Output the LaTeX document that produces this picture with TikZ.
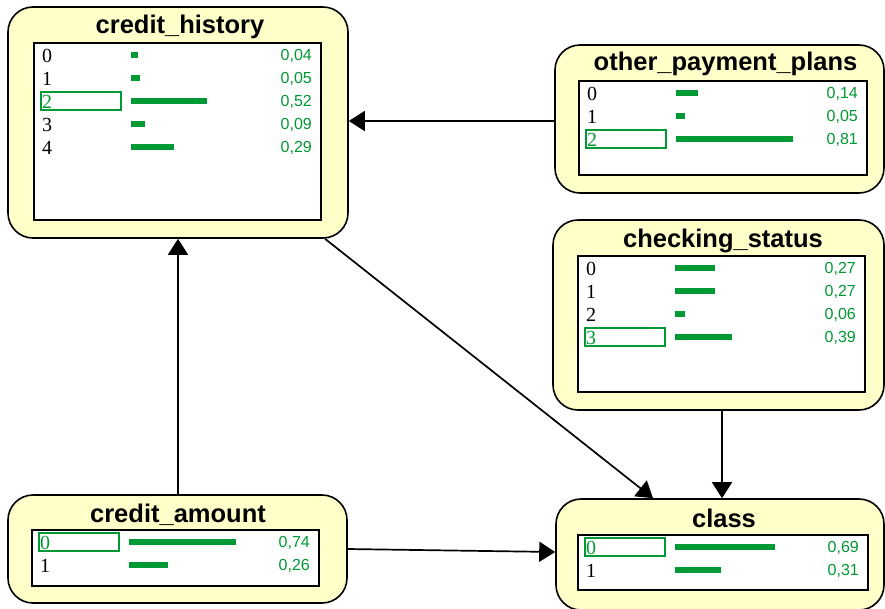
\documentclass[tikz,border=0pt]{standalone}
\usepackage{fontspec}
\setmainfont{Liberation Serif}
\setsansfont{Liberation Sans}
\usetikzlibrary{arrows.meta}
\definecolor{nodefill}{RGB}{255,255,202}
\definecolor{pgreen}{RGB}{0,153,51}

\tikzset{
  varbox/.style={draw=black, line width=1.6pt, fill=nodefill, rounded corners=25pt, inner sep=0pt},
  panel/.style={draw=black, line width=1.5pt, fill=white, inner sep=0pt},
  vtitle/.style={font=\fontsize{25.5}{26}\selectfont\sffamily\bfseries, anchor=base, inner sep=0pt},
  lab/.style={font=\fontsize{20}{20}\selectfont\rmfamily, anchor=base west, inner sep=0pt},
  val/.style={font=\fontsize{16}{16}\selectfont\sffamily, text=pgreen, anchor=base east, inner sep=0pt},
  bar/.style={fill=pgreen},
  selbox/.style={draw=pgreen, line width=1.2pt},
  link/.style={draw=black, line width=1.7pt, -{Triangle[length=16pt,width=20pt]}},
}

% one state row: prefix, panel left, panel right, row centre, state, probability, printed value
\newcommand{\prow}[7]{%
  \node[lab] (#1-#5) at (#2+8,#4+7) {#5};
  \fill[bar] (#2+97,#4-3) rectangle ++({143*#6+1.5},6);
  \node[val] (#1-#5v) at (#3-9,#4+5.5) {#7};
}
% the observed state: framed and green
\newcommand{\prowsel}[7]{%
  \draw[selbox] (#2+7,#4-9) rectangle (#2+87,#4+9);
  \node[lab, text=pgreen] (#1-#5) at (#2+8,#4+7) {#5};
  \fill[bar] (#2+97,#4-3) rectangle ++({143*#6+1.5},6);
  \node[val] (#1-#5v) at (#3-9,#4+5.5) {#7};
}

\begin{document}
\begin{tikzpicture}[x=1pt, y=-1pt]
\useasboundingbox (0,0) rectangle (885,608);

% ---------- credit_history ----------
\node[varbox, minimum width=340pt, minimum height=231pt] (ch) at (178,122.5) {};
\node[panel, minimum width=287pt, minimum height=177pt] (chp) at (177.5,131.5) {};
\node[vtitle] (cht) at (180,33) {credit\_history};
\prow{ch}{34}{321}{55}{0}{0.04}{0,04}
\prow{ch}{34}{321}{78}{1}{0.05}{0,05}
\prowsel{ch}{34}{321}{101}{2}{0.52}{0,52}
\prow{ch}{34}{321}{124}{3}{0.09}{0,09}
\prow{ch}{34}{321}{147}{4}{0.29}{0,29}

% ---------- other_payment_plans ----------
\node[varbox, minimum width=329pt, minimum height=148pt] (opp) at (719.5,119) {};
\node[panel, minimum width=288pt, minimum height=94pt] (oppp) at (723,128) {};
\node[vtitle] (oppt) at (725.5,70) {other\_payment\_plans};
\prow{opp}{579}{867}{93}{0}{0.14}{0,14}
\prow{opp}{579}{867}{116}{1}{0.05}{0,05}
\prowsel{opp}{579}{867}{139}{2}{0.81}{0,81}

% ---------- checking_status ----------
\node[varbox, minimum width=331pt, minimum height=190pt] (cs) at (718.5,315) {};
\node[panel, minimum width=287pt, minimum height=136pt] (csp) at (721.5,324) {};
\node[vtitle] (cst) at (723,247) {checking\_status};
\prow{cs}{578}{865}{268}{0}{0.27}{0,27}
\prow{cs}{578}{865}{291}{1}{0.27}{0,27}
\prow{cs}{578}{865}{314}{2}{0.06}{0,06}
\prowsel{cs}{578}{865}{337}{3}{0.39}{0,39}

% ---------- credit_amount ----------
\node[varbox, minimum width=339pt, minimum height=108pt] (ca) at (177.5,549) {};
\node[panel, minimum width=287pt, minimum height=56pt] (cap) at (175.5,558) {};
\node[vtitle] (cat) at (178,522) {credit\_amount};
\prowsel{ca}{32}{319}{542}{0}{0.74}{0,74}
\prow{ca}{32}{319}{565}{1}{0.26}{0,26}

% ---------- class ----------
\node[varbox, minimum width=328pt, minimum height=111pt] (cl) at (720,554.5) {};
\node[panel, minimum width=290pt, minimum height=55pt] (clp) at (723,562.5) {};
\node[vtitle] (clt) at (724,527) {class};
\prowsel{cl}{578}{868}{547}{0}{0.69}{0,69}
\prow{cl}{578}{868}{570}{1}{0.31}{0,31}

% ---------- dependencies ----------
\draw[link] ([yshift=-2pt]opp.west) -- ([yshift=-2pt]opp.west -| ch.east);
\draw[link] ([xshift=0.5pt]ca.north) -- ([xshift=0.5pt]ca.north |- ch.south);
\draw[link] ([xshift=147pt]ch.south) -- ([xshift=-67pt]cl.north);
\draw[link] ([xshift=3.5pt]cs.south) -- ([xshift=3.5pt]cs.south |- cl.north);
\draw[link] (ca.east) -- ([yshift=2.5pt]cl.west);
\end{tikzpicture}
\end{document}
